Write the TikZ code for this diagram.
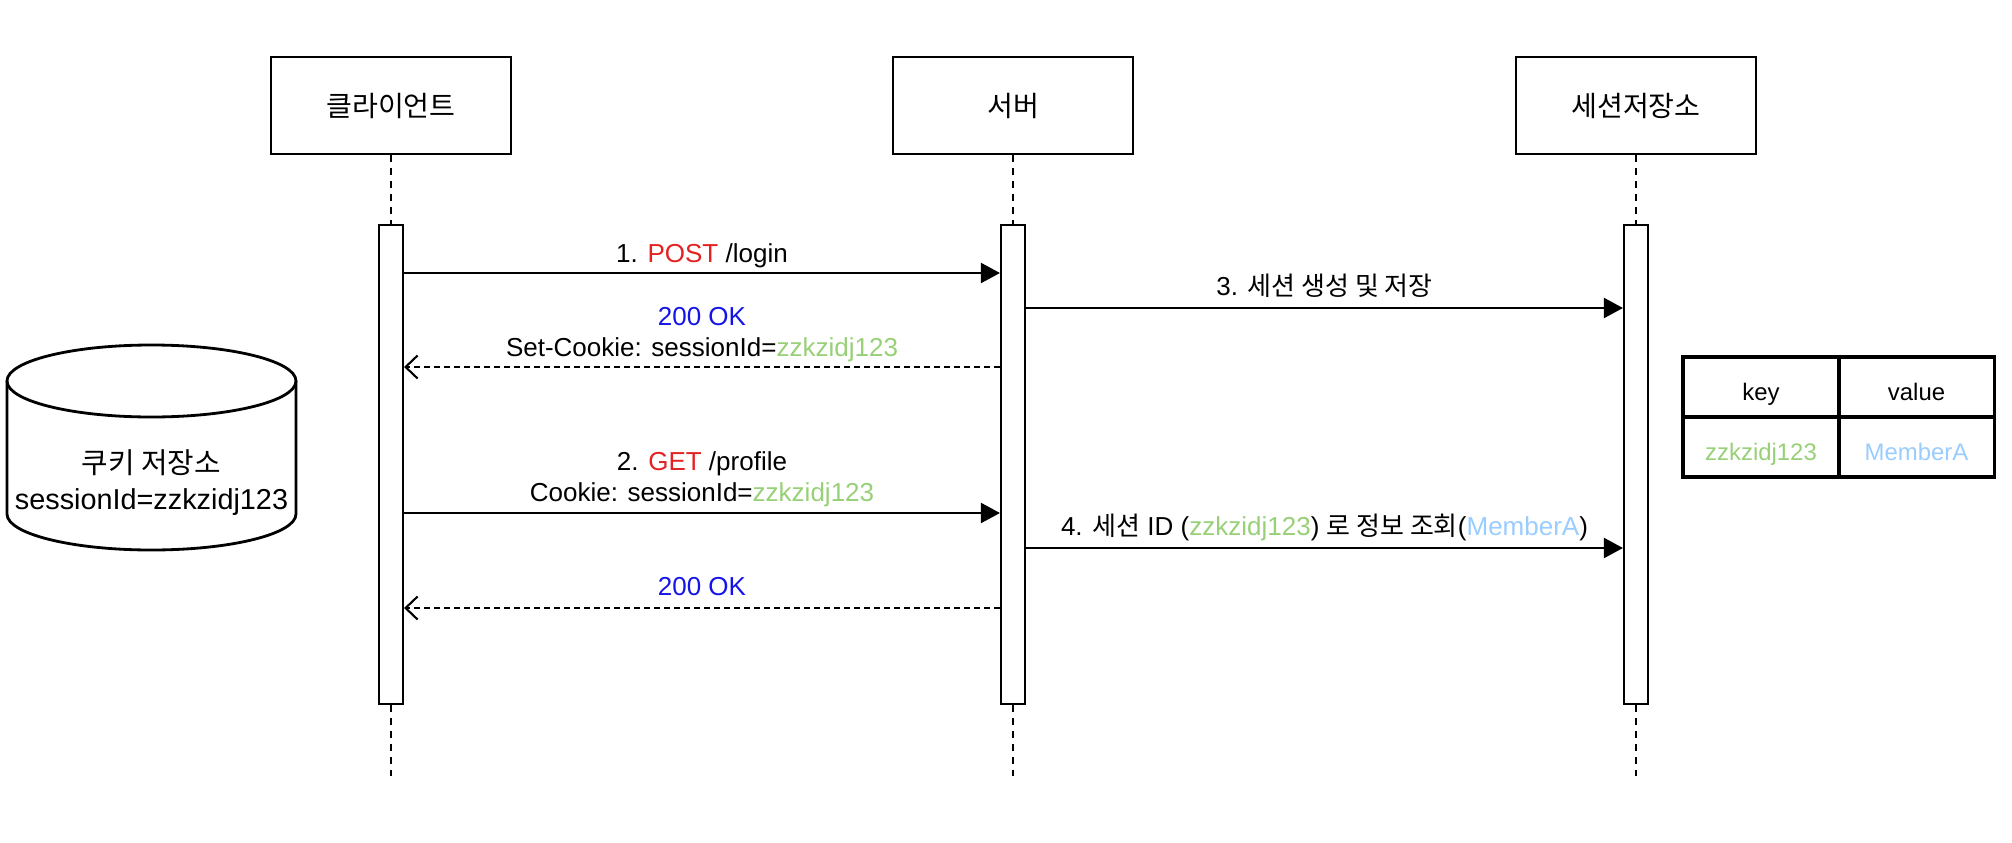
\documentclass[tikz,border=0pt]{standalone}
\usepackage{fontspec}
\usepackage{xcolor}
\setmainfont{Liberation Sans}
\newfontfamily\krfont{Noto Sans CJK KR}
\usetikzlibrary{arrows.meta}
\definecolor{SQRed}{HTML}{E32222}
\definecolor{SQBlue}{HTML}{1414E6}
\definecolor{SQGreen}{HTML}{97D077}
\definecolor{SQSky}{HTML}{99CCFF}
\tikzset{
  actor/.style={draw,line width=.8pt,minimum width=2.40cm,minimum height=.97cm,inner sep=0pt,font=\fontsize{8}{9.6}\selectfont\krfont},
  actbar/.style={draw,fill=white,line width=.6pt,minimum width=.24cm,minimum height=4.79cm,inner sep=0pt},
  lifeline/.style={line width=.6pt,dash pattern=on .07cm off .06cm},
  req/.style={line width=.6pt,-{Triangle[length=.19cm,width=.2cm]}},
  reply/.style={line width=.6pt,dash pattern=on .06cm off .04cm,-{Straight Barb[length=.12cm,width=.23cm,line width=.6pt]}},
  msg/.style={inner sep=0pt,text height=.19cm,text depth=.05cm,align=center},
  cell/.style={draw,line width=1pt,minimum width=1.56cm,minimum height=.60cm,inner sep=0pt,text height=.31cm,text depth=.05cm,font=\fontsize{6.8}{8}\selectfont}
}

\begin{document}
\begin{tikzpicture}[x=1cm,y=1cm,font=\fontsize{7.4}{8.8}\selectfont]
\path[use as bounding box] (0,0) rectangle (20.12,8.42);
% participants
\node[actor] (client) at (3.91,7.365) {클라이언트};
\node[actor] (server) at (10.13,7.365) {서버};
\node[actor] (store) at (16.36,7.365) {세션저장소};
\node[actbar] (clientbar) at (3.91,3.775) {};
\node[actbar] (serverbar) at (10.13,3.775) {};
\node[actbar] (storebar) at (16.36,3.775) {};
\coordinate (clientend) at (3.91,.66);
\coordinate (serverend) at (10.13,.66);
\coordinate (storeend) at (16.36,.66);
\foreach \who in {client,server,store}{
  \draw[lifeline] (\who.south) -- (\who bar.north);
  \draw[lifeline] (\who bar.south) -- (\who end);
}
% message heights
\coordinate (m1) at (0,5.69);
\coordinate (m3) at (0,5.34);
\coordinate (r1) at (0,4.75);
\coordinate (m2) at (0,3.29);
\coordinate (m4) at (0,2.94);
\coordinate (r2) at (0,2.34);
\draw[req] (clientbar.east |- m1) -- node[msg,yshift=.18cm] {1. \textcolor{SQRed}{POST} /login} (serverbar.west |- m1);
\draw[req] (serverbar.east |- m3) -- node[msg,yshift=.20cm] {3. {\krfont 세션 생성 및 저장}} (storebar.west |- m3);
\draw[reply] (serverbar.west |- r1) -- node[msg,yshift=.18cm] {\textcolor{SQBlue}{200 OK}\\Set-Cookie: sessionId=\textcolor{SQGreen}{zzkzidj123}} (clientbar.east |- r1);
\draw[req] (clientbar.east |- m2) -- node[msg,yshift=.19cm] {2. \textcolor{SQRed}{GET} /profile\\Cookie: sessionId=\textcolor{SQGreen}{zzkzidj123}} (serverbar.west |- m2);
\draw[req] (serverbar.east |- m4) -- node[msg,yshift=.20cm] {4. {\krfont 세션} ID (\textcolor{SQGreen}{zzkzidj123}) {\krfont 로 정보 조회}(\textcolor{SQSky}{MemberA})} (storebar.west |- m4);
\draw[reply] (serverbar.west |- r2) -- node[msg,yshift=.20cm] {\textcolor{SQBlue}{200 OK}} (clientbar.east |- r2);
% cookie jar
\draw[line width=.8pt] (.07,4.61) -- (.07,3.28) arc[start angle=180,end angle=360,x radius=1.445,y radius=.36] -- (2.96,4.61);
\draw[line width=.8pt] (1.515,4.61) ellipse[x radius=1.445,y radius=.36];
\node[msg,font=\fontsize{8.2}{10.2}\selectfont] (cookiejar) at (1.515,3.40) {{\krfont 쿠키 저장소}\\sessionId=zzkzidj123};
% session table
\node[cell] (keyhead) at (17.61,4.55) {key};
\node[cell] (valhead) at (19.165,4.55) {value};
\node[cell] (keycell) at (17.61,3.95) {\textcolor{SQGreen}{zzkzidj123}};
\node[cell] (valcell) at (19.165,3.95) {\textcolor{SQSky}{MemberA}};
\end{tikzpicture}
\end{document}
